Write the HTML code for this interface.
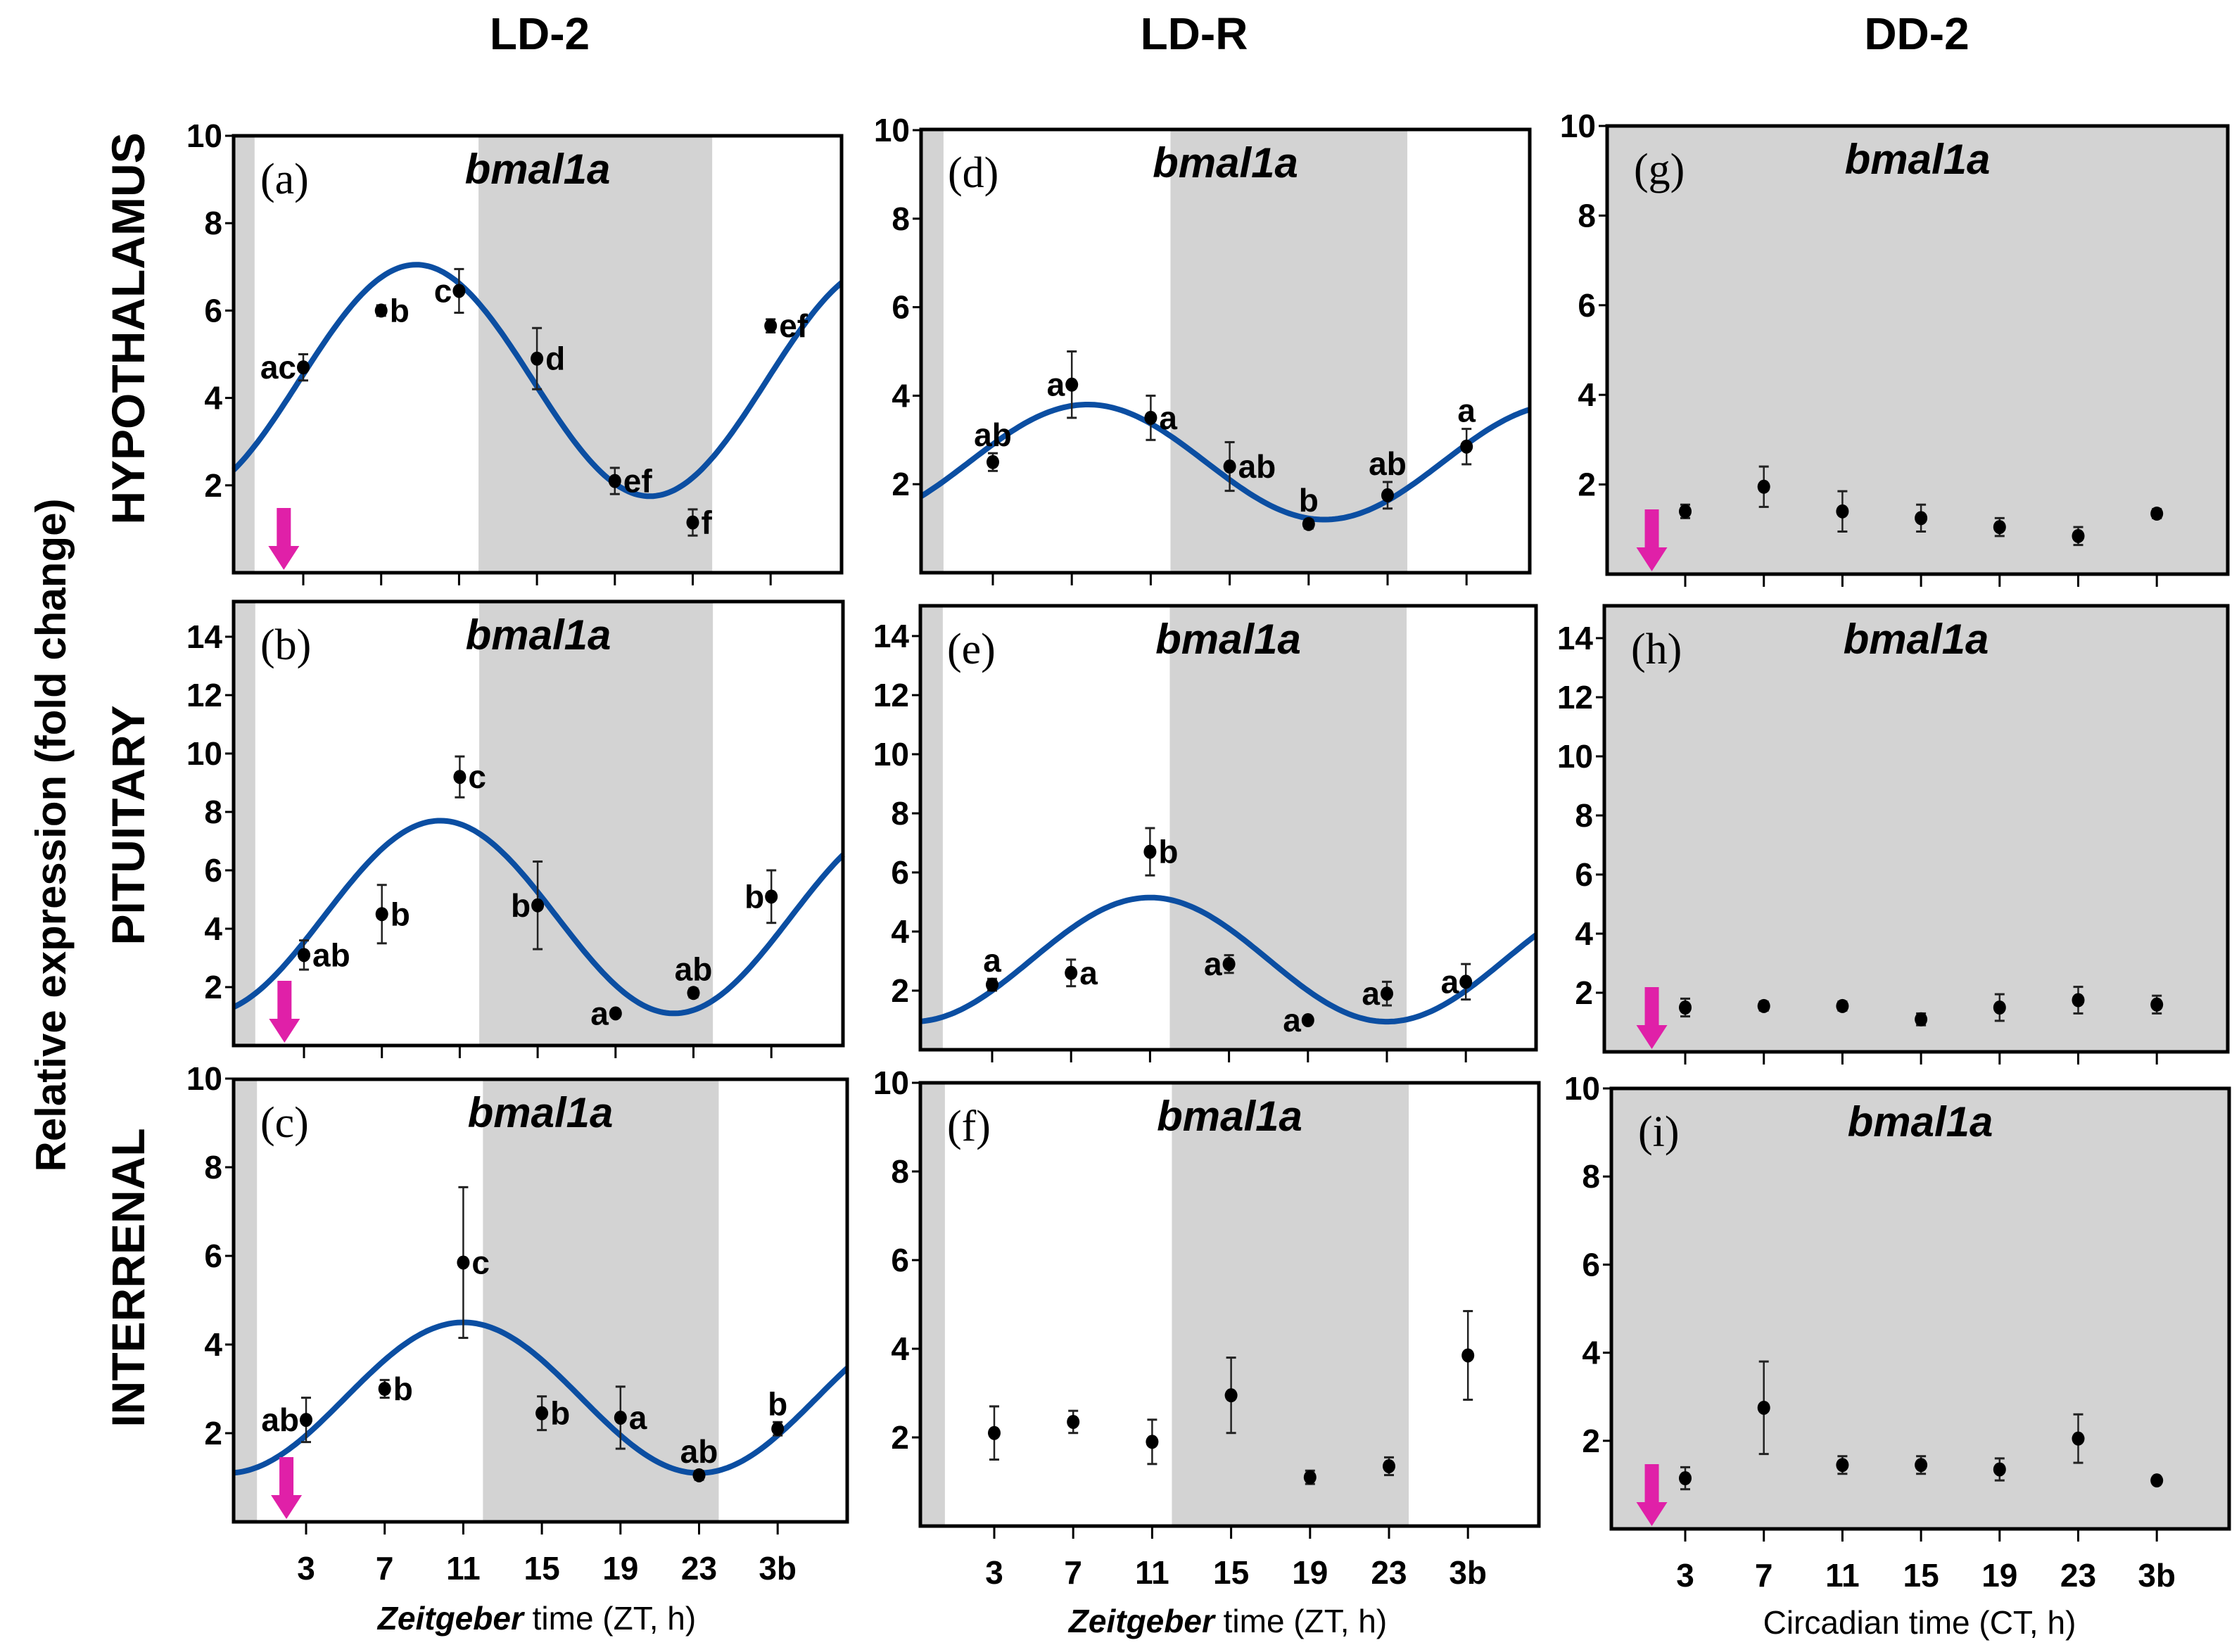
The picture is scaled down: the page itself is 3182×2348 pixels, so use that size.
<!DOCTYPE html>
<html><head><meta charset="utf-8">
<style>
html,body{margin:0;padding:0;background:#fff;}
svg{display:block;}
.tk{font-family:"Liberation Sans Narrow","Liberation Sans",sans-serif;font-weight:bold;font-size:46px;fill:#000;}
.lt{font-family:"Liberation Sans Narrow","Liberation Sans",sans-serif;font-weight:bold;font-size:46px;fill:#000;}
.gn{font-family:"Liberation Sans",sans-serif;font-weight:bold;font-style:italic;font-size:60px;fill:#000;}
.pl{font-family:"Liberation Serif",serif;font-size:62px;fill:#000;}
.hd{font-family:"Liberation Sans",sans-serif;font-weight:bold;font-size:64px;fill:#000;}
.ax{font-family:"Liberation Sans Narrow","Liberation Sans",sans-serif;font-size:46px;fill:#000;}
</style></head>
<body>
<svg id="fig" width="3182" height="2348" viewBox="0 0 3182 2348" xmlns="http://www.w3.org/2000/svg">
<text class="hd" x="767" y="70" text-anchor="middle">LD-2</text>
<text class="hd" x="1697" y="70" text-anchor="middle">LD-R</text>
<text class="hd" x="2724" y="70" text-anchor="middle">DD-2</text>
<text class="hd" transform="translate(93,1187) rotate(-90)" text-anchor="middle" style="font-weight:bold;font-size:60px">Relative expression (fold change)</text>
<text class="hd" transform="translate(205,467) rotate(-90)" text-anchor="middle" style="font-size:66px">HYPOTHALAMUS</text>
<text class="hd" transform="translate(205,1173) rotate(-90)" text-anchor="middle" style="font-size:66px">PITUITARY</text>
<text class="hd" transform="translate(205,1816) rotate(-90)" text-anchor="middle" style="font-size:66px">INTERRENAL</text>
<text class="ax" x="763" y="2316" text-anchor="middle"><tspan font-weight="bold" font-style="italic">Zeitgeber</tspan> time (ZT, h)</text>
<text class="ax" x="1745" y="2320" text-anchor="middle"><tspan font-weight="bold" font-style="italic">Zeitgeber</tspan> time (ZT, h)</text>
<text class="ax" x="2728" y="2322" text-anchor="middle">Circadian time (CT, h)</text>
</svg>
<script>
const hours=[3,7,11,15,19,23,27];
const tickLabels=['3','7','11','15','19','23','3b'];
const yTicks10=[2,4,6,8,10];
const yTicks14=[2,4,6,8,10,12,14];
const valsA=[4.7,6.0,6.45,4.9,2.1,1.15,5.65];
const errA=[0.3,0.12,0.5,0.7,0.3,0.3,0.15];
const letA=['ac','b','c','d','ef','f','ef'];
const fitA=[4.4,2.65,8.8];
const valsB=[3.1,4.5,9.2,4.8,1.1,1.8,5.1];
const errB=[0.5,1.0,0.7,1.5,0.1,0.15,0.9];
const letB=['ab','b','c','b','a','ab','b'];
const fitB=[4.4,3.3,10.0];
const valsC=[2.3,3.0,5.85,2.45,2.35,1.05,2.1];
const errC=[0.5,0.2,1.7,0.38,0.7,0.1,0.15];
const letC=['ab','b','c','b','a','ab','b'];
const fitC=[2.8,1.7,11.0];
const valsD=[2.5,4.25,3.5,2.4,1.1,1.75,2.85];
const errD=[0.2,0.75,0.5,0.55,0.1,0.3,0.4];
const letD=['ab','a','a','ab','b','ab','a'];
const fitD=[2.5,1.3,7.8];
const valsE=[2.2,2.6,6.7,2.9,1.0,1.9,2.3];
const errE=[0.2,0.45,0.8,0.3,0.05,0.4,0.6];
const letE=['a','a','b','a','a','a','a'];
const fitE=[3.05,2.1,11.0];
const valsF=[2.1,2.35,1.9,2.95,1.1,1.35,3.85];
const errF=[0.6,0.25,0.5,0.85,0.15,0.2,1.0];
const valsG=[1.4,1.95,1.4,1.25,1.05,0.85,1.35];
const errG=[0.15,0.45,0.45,0.3,0.2,0.2,0.1];
const valsH=[1.5,1.55,1.55,1.1,1.5,1.75,1.6];
const errH=[0.3,0.15,0.15,0.2,0.45,0.45,0.3];
const valsI=[1.15,2.75,1.45,1.45,1.35,2.05,1.1];
const errI=[0.25,1.05,0.2,0.2,0.25,0.55,0.05];

const NS='http://www.w3.org/2000/svg';
const svg=document.getElementById('fig');
function mk(tag,attrs,parent){const e=document.createElementNS(NS,tag);for(const k in attrs)e.setAttribute(k,attrs[k]);(parent||svg).appendChild(e);return e;}

const panels=[
 {id:'a',x0:332,x1:1196,top:193,zero:814,ppu:62.1,t3:431,step:110.7,ticks:yTicks10,vals:valsA,err:errA,let:letA,pos:['l','r','l','r','r','r','r'],fit:fitA,gray:'ld',arrow:2.0,xlab:false},
 {id:'b',x0:332,x1:1198,top:855,zero:1486,ppu:41.5,t3:432,step:110.7,ticks:yTicks14,vals:valsB,err:errB,let:letB,pos:['r','r','r','l','l','t','l'],fit:fitB,gray:'ld',arrow:2.0,xlab:false},
 {id:'c',x0:332,x1:1204,top:1534,zero:2163,ppu:63,t3:435,step:111.7,ticks:yTicks10,vals:valsC,err:errC,let:letC,pos:['l','r','r','r','r','t','t'],fit:fitC,gray:'ld',arrow:2.0,xlab:true},
 {id:'d',x0:1309,x1:2174,top:184,zero:814,ppu:62.9,t3:1411,step:112.2,ticks:yTicks10,vals:valsD,err:errD,let:letD,pos:['t','l','r','r','t','t','t'],fit:fitD,gray:'ld',arrow:null,xlab:false},
 {id:'e',x0:1308,x1:2183,top:861,zero:1492,ppu:42,t3:1410,step:112.2,ticks:yTicks14,vals:valsE,err:errE,let:letE,pos:['t','r','r','l','l','l','l'],fit:fitE,gray:'ld',arrow:null,xlab:false},
 {id:'f',x0:1308,x1:2187,top:1539,zero:2169,ppu:63,t3:1413,step:112.2,ticks:yTicks10,vals:valsF,err:errF,let:null,pos:null,fit:null,gray:'ld',arrow:null,xlab:true},
 {id:'g',x0:2284,x1:3166,top:179,zero:816,ppu:63.7,t3:2395,step:111.7,ticks:yTicks10,vals:valsG,err:errG,let:null,pos:null,fit:null,gray:'dd',arrow:1.3,xlab:false},
 {id:'h',x0:2280,x1:3166,top:861,zero:1495,ppu:42,t3:2395,step:111.7,ticks:yTicks14,vals:valsH,err:errH,let:null,pos:null,fit:null,gray:'dd',arrow:1.3,xlab:false},
 {id:'i',x0:2290,x1:3168,top:1547,zero:2173,ppu:62.6,t3:2395,step:111.7,ticks:yTicks10,vals:valsI,err:errI,let:null,pos:null,fit:null,gray:'dd',arrow:1.3,xlab:true}
];

panels.forEach(p=>{
 const g=mk('g',{});
 
 
 const X=h=>p.t3+(h-3)*p.step/4;
 const Y=v=>p.zero-v*p.ppu;
 const H=p.zero-p.top;
 // background
 if(p.gray==='dd'){
  const r=mk('rect',{x:p.x0,y:p.top,width:p.x1-p.x0,height:H,fill:'#d3d3d3'},g);
  
  
 } else {
  const cl=Math.max(p.x0,X(0.5));
  const r1=mk('rect',{x:p.x0,y:p.top,width:cl-p.x0,height:H,fill:'#d3d3d3'},g);
  
  
  const r2=mk('rect',{x:X(12),y:p.top,width:X(24)-X(12),height:H,fill:'#d3d3d3'},g);
  
  
 }
 // y ticks
 p.ticks.forEach(t=>{
  mk('line',{x1:p.x0-12,x2:p.x0,y1:Y(t),y2:Y(t),stroke:'#000','stroke-width':3},g);
  const tx=mk('text',{x:p.x0-16,y:Y(t)+16,'text-anchor':'end',class:'tk'},g);
  tx.textContent=t;
  
  
 });
 // x ticks
 hours.forEach((h,i)=>{
  mk('line',{x1:X(h),x2:X(h),y1:p.zero,y2:p.zero+18,stroke:'#000','stroke-width':3},g);
  if(p.xlab){
   const tx=mk('text',{x:X(h),y:p.zero+82,'text-anchor':'middle',class:'tk'},g);
   tx.textContent=tickLabels[i];
   
   
  }
 });
 // fit curve
 if(p.fit){
  const [m,a,ac]=p.fit;
  const h0=3+(p.x0-p.t3)/(p.step/4), h1=3+(p.x1-p.t3)/(p.step/4);
  let d='';
  for(let k=0;k<=200;k++){const h=h0+(h1-h0)*k/200;const v=m+a*Math.cos(2*Math.PI*(h-ac)/24);d+=(k?'L':'M')+X(h).toFixed(1)+' '+Y(v).toFixed(1);}
  const c=mk('path',{d:d,fill:'none',stroke:'#0b4ea2','stroke-width':8},g);
  
  
 }
 // points
 p.vals.forEach((v,i)=>{
  const x=X(hours[i]),y=Y(v),e=p.err[i]*p.ppu;
  const pg=mk('g',{},g);
  
  
  mk('line',{x1:x,x2:x,y1:y-e,y2:y+e,stroke:'#222','stroke-width':2.5},pg);
  mk('line',{x1:x-7,x2:x+7,y1:y-e,y2:y-e,stroke:'#222','stroke-width':3},pg);
  mk('line',{x1:x-7,x2:x+7,y1:y+e,y2:y+e,stroke:'#222','stroke-width':3},pg);
  mk('ellipse',{cx:x,cy:y,rx:9,ry:10,fill:'#000'},pg);
  if(p.let){
   const pos=p.pos[i];let ax=x+12,ay=y+16,an='start';
   if(pos==='l'){ax=x-10;an='end';}
   if(pos==='t'){ax=x;an='middle';ay=y-Math.max(e,8)-10;}
   const lt=mk('text',{x:ax,y:ay,'text-anchor':an,class:'lt'},pg);
   lt.textContent=p.let[i];
   
   
  }
 });
 // arrow
 if(p.arrow!==null){
  const ax=X(p.arrow),b=p.zero-4;
  const ar=mk('path',{d:`M${ax-10} ${b-88}L${ax+10} ${b-88}L${ax+10} ${b-34}L${ax+22} ${b-34}L${ax} ${b}L${ax-22} ${b-34}L${ax-10} ${b-34}Z`,fill:'#e020a8'},g);
  
  
 }
 // frame
 const fr=mk('rect',{x:p.x0,y:p.top,width:p.x1-p.x0,height:H,fill:'none',stroke:'#000','stroke-width':5},g);
 
 
 const pl=mk('text',{x:p.x0+38,y:p.top+82,class:'pl'},g);
 pl.textContent='('+p.id+')';
 
 
 const gn=mk('text',{x:(p.x0+p.x1)/2,y:p.top+68,'text-anchor':'middle',class:'gn'},g);
 gn.textContent='bmal1a';
 
 
});
</script>
</body></html>
